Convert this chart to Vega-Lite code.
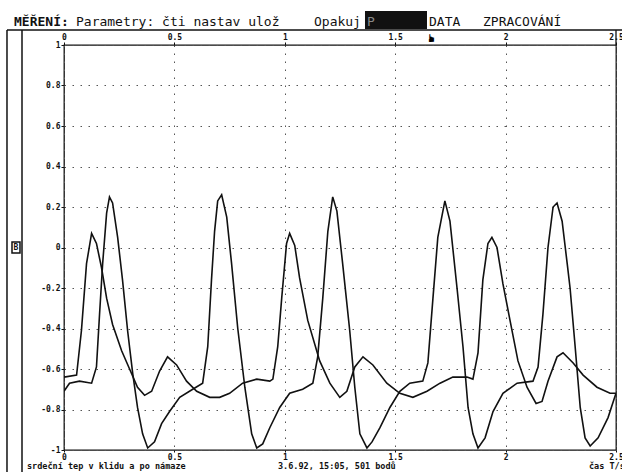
{
  "$schema": "https://vega.github.io/schema/vega-lite/v6.json",
  "width": 552,
  "height": 405,
  "autosize": {"type": "none"},
  "padding": {"left": 64, "top": 45, "right": 6, "bottom": 22},
  "background": "white",
  "config": {
    "font": "DejaVu Sans Mono",
    "view": {"stroke": "#111", "strokeWidth": 1.3},
    "axis": {
      "domainColor": "#111", "tickColor": "#111", "labelColor": "#111",
      "labelFont": "DejaVu Sans Mono", "labelFontWeight": "bold", "labelFontSize": 8
    }
  },
  "data": {"values": [
    {"s":"A","t":0,"v":-0.64},{"s":"A","t":0.057,"v":-0.63},{"s":"A","t":0.079,"v":-0.41},{"s":"A","t":0.102,"v":-0.08},{"s":"A","t":0.125,"v":0.07},{"s":"A","t":0.147,"v":0.02},{"s":"A","t":0.170,"v":-0.10},{"s":"A","t":0.193,"v":-0.25},{"s":"A","t":0.220,"v":-0.38},{"s":"A","t":0.261,"v":-0.51},{"s":"A","t":0.297,"v":-0.60},{"s":"A","t":0.333,"v":-0.69},{"s":"A","t":0.365,"v":-0.73},{"s":"A","t":0.397,"v":-0.71},{"s":"A","t":0.433,"v":-0.61},{"s":"A","t":0.469,"v":-0.54},{"s":"A","t":0.510,"v":-0.58},{"s":"A","t":0.555,"v":-0.66},{"s":"A","t":0.601,"v":-0.71},{"s":"A","t":0.660,"v":-0.74},{"s":"A","t":0.705,"v":-0.74},{"s":"A","t":0.750,"v":-0.72},{"s":"A","t":0.809,"v":-0.67},{"s":"A","t":0.873,"v":-0.65},{"s":"A","t":0.932,"v":-0.66},{"s":"A","t":0.946,"v":-0.65},{"s":"A","t":0.968,"v":-0.49},{"s":"A","t":0.986,"v":-0.25},{"s":"A","t":1.008,"v":0.02},{"s":"A","t":1.022,"v":0.07},{"s":"A","t":1.045,"v":0.01},{"s":"A","t":1.067,"v":-0.15},{"s":"A","t":1.104,"v":-0.36},{"s":"A","t":1.158,"v":-0.56},{"s":"A","t":1.204,"v":-0.67},{"s":"A","t":1.249,"v":-0.74},{"s":"A","t":1.281,"v":-0.71},{"s":"A","t":1.317,"v":-0.59},{"s":"A","t":1.354,"v":-0.54},{"s":"A","t":1.399,"v":-0.58},{"s":"A","t":1.462,"v":-0.67},{"s":"A","t":1.521,"v":-0.72},{"s":"A","t":1.580,"v":-0.74},{"s":"A","t":1.644,"v":-0.71},{"s":"A","t":1.703,"v":-0.67},{"s":"A","t":1.761,"v":-0.64},{"s":"A","t":1.825,"v":-0.64},{"s":"A","t":1.852,"v":-0.65},{"s":"A","t":1.875,"v":-0.52},{"s":"A","t":1.897,"v":-0.16},{"s":"A","t":1.920,"v":0.02},{"s":"A","t":1.938,"v":0.05},{"s":"A","t":1.961,"v":0.00},{"s":"A","t":1.988,"v":-0.18},{"s":"A","t":2.020,"v":-0.36},{"s":"A","t":2.056,"v":-0.56},{"s":"A","t":2.097,"v":-0.69},{"s":"A","t":2.138,"v":-0.77},{"s":"A","t":2.165,"v":-0.76},{"s":"A","t":2.192,"v":-0.66},{"s":"A","t":2.233,"v":-0.54},{"s":"A","t":2.260,"v":-0.52},{"s":"A","t":2.306,"v":-0.57},{"s":"A","t":2.351,"v":-0.63},{"s":"A","t":2.414,"v":-0.69},{"s":"A","t":2.473,"v":-0.72},{"s":"A","t":2.500,"v":-0.72},
    {"s":"B","t":0,"v":-0.71},{"s":"B","t":0.025,"v":-0.67},{"s":"B","t":0.070,"v":-0.66},{"s":"B","t":0.125,"v":-0.67},{"s":"B","t":0.147,"v":-0.59},{"s":"B","t":0.161,"v":-0.33},{"s":"B","t":0.175,"v":-0.08},{"s":"B","t":0.193,"v":0.17},{"s":"B","t":0.206,"v":0.25},{"s":"B","t":0.220,"v":0.22},{"s":"B","t":0.243,"v":0.05},{"s":"B","t":0.265,"v":-0.16},{"s":"B","t":0.288,"v":-0.41},{"s":"B","t":0.311,"v":-0.62},{"s":"B","t":0.333,"v":-0.79},{"s":"B","t":0.356,"v":-0.92},{"s":"B","t":0.379,"v":-0.99},{"s":"B","t":0.410,"v":-0.96},{"s":"B","t":0.442,"v":-0.87},{"s":"B","t":0.478,"v":-0.81},{"s":"B","t":0.524,"v":-0.74},{"s":"B","t":0.583,"v":-0.70},{"s":"B","t":0.628,"v":-0.67},{"s":"B","t":0.651,"v":-0.49},{"s":"B","t":0.668,"v":-0.16},{"s":"B","t":0.682,"v":0.08},{"s":"B","t":0.696,"v":0.23},{"s":"B","t":0.714,"v":0.26},{"s":"B","t":0.737,"v":0.15},{"s":"B","t":0.759,"v":-0.08},{"s":"B","t":0.787,"v":-0.40},{"s":"B","t":0.819,"v":-0.69},{"s":"B","t":0.850,"v":-0.92},{"s":"B","t":0.873,"v":-0.99},{"s":"B","t":0.900,"v":-0.97},{"s":"B","t":0.932,"v":-0.89},{"s":"B","t":0.977,"v":-0.79},{"s":"B","t":1.022,"v":-0.72},{"s":"B","t":1.081,"v":-0.70},{"s":"B","t":1.127,"v":-0.67},{"s":"B","t":1.149,"v":-0.54},{"s":"B","t":1.172,"v":-0.25},{"s":"B","t":1.195,"v":0.08},{"s":"B","t":1.217,"v":0.25},{"s":"B","t":1.236,"v":0.18},{"s":"B","t":1.262,"v":-0.08},{"s":"B","t":1.294,"v":-0.41},{"s":"B","t":1.317,"v":-0.69},{"s":"B","t":1.340,"v":-0.92},{"s":"B","t":1.372,"v":-0.99},{"s":"B","t":1.395,"v":-0.96},{"s":"B","t":1.431,"v":-0.89},{"s":"B","t":1.476,"v":-0.79},{"s":"B","t":1.521,"v":-0.71},{"s":"B","t":1.566,"v":-0.67},{"s":"B","t":1.625,"v":-0.66},{"s":"B","t":1.648,"v":-0.57},{"s":"B","t":1.671,"v":-0.25},{"s":"B","t":1.693,"v":0.05},{"s":"B","t":1.725,"v":0.23},{"s":"B","t":1.748,"v":0.13},{"s":"B","t":1.780,"v":-0.20},{"s":"B","t":1.807,"v":-0.49},{"s":"B","t":1.830,"v":-0.79},{"s":"B","t":1.852,"v":-0.92},{"s":"B","t":1.875,"v":-0.99},{"s":"B","t":1.907,"v":-0.94},{"s":"B","t":1.943,"v":-0.81},{"s":"B","t":1.988,"v":-0.72},{"s":"B","t":2.052,"v":-0.67},{"s":"B","t":2.124,"v":-0.66},{"s":"B","t":2.147,"v":-0.59},{"s":"B","t":2.169,"v":-0.33},{"s":"B","t":2.192,"v":0.00},{"s":"B","t":2.215,"v":0.20},{"s":"B","t":2.233,"v":0.22},{"s":"B","t":2.256,"v":0.13},{"s":"B","t":2.279,"v":-0.08},{"s":"B","t":2.292,"v":-0.20},{"s":"B","t":2.315,"v":-0.49},{"s":"B","t":2.338,"v":-0.79},{"s":"B","t":2.360,"v":-0.94},{"s":"B","t":2.383,"v":-0.98},{"s":"B","t":2.419,"v":-0.94},{"s":"B","t":2.464,"v":-0.84},{"s":"B","t":2.500,"v":-0.72}
  ]},
  "resolve": {"axis": {"x": "independent"}},
  "layer": [
    {
      "mark": {"type": "line", "color": "#111", "strokeWidth": 1.6, "clip": true},
      "encoding": {
        "x": {"field": "t", "type": "quantitative",
              "scale": {"domain": [0, 2.5], "nice": false, "zero": false},
              "axis": {"orient": "bottom", "title": null, "values": [0, 0.5, 1, 1.5, 2, 2.5],
                       "labelExpr": "'' + datum.value", "grid": true, "gridDash": [1.5, 6.5], "gridColor": "#555",
                       "tickSize": 2, "labelPadding": 1, "domain": false, "labelFlush": false, "labelOverlap": false, "labelBound": false}},
        "y": {"field": "v", "type": "quantitative",
              "scale": {"domain": [-1, 1], "nice": false, "zero": false},
              "axis": {"orient": "left", "title": null, "values": [-1, -0.8, -0.6, -0.4, -0.2, 0, 0.2, 0.4, 0.6, 0.8, 1],
                       "labelExpr": "'' + datum.value", "grid": true, "gridDash": [1.5, 6.5], "gridColor": "#555",
                       "tickSize": 3, "labelPadding": 1, "domain": false, "labelOverlap": false, "labelBound": false}},
        "detail": {"field": "s"}
      }
    },
    {
      "mark": {"type": "point", "opacity": 0},
      "encoding": {
        "x": {"field": "t", "type": "quantitative",
              "axis": {"orient": "top", "title": null, "values": [0, 0.5, 1, 1.5, 2, 2.5],
                       "labelExpr": "'' + datum.value", "grid": false,
                       "tickSize": 3, "labelPadding": 1, "domain": false, "labelFlush": false, "labelOverlap": false, "labelBound": false}},
        "y": {"field": "v", "type": "quantitative"}
      }
    },
    {
      "data": {"values": [{}]},
      "mark": {"type": "rule", "color": "#111", "strokeWidth": 1.5},
      "encoding": {"x": {"datum": -0.2582, "axis": null}, "x2": {"datum": 2.536}, "y": {"datum": 1.0741}}
    },
    {
      "data": {"values": [{}]},
      "mark": {"type": "rule", "color": "#111", "strokeWidth": 1.5},
      "encoding": {"x": {"datum": -0.2582, "axis": null}, "y": {"datum": 1.0741}, "y2": {"datum": -1.11}}
    },
    {
      "data": {"values": [{}]},
      "mark": {"type": "rule", "color": "#111", "strokeWidth": 1.5},
      "encoding": {"x": {"datum": -0.1902, "axis": null}, "y": {"datum": 1.0741}, "y2": {"datum": -1.11}}
    },
    {
      "data": {"values": [{}]},
      "mark": {"type": "rule", "color": "#111", "strokeWidth": 1.3},
      "encoding": {"x": {"datum": 2.5, "axis": null}, "y": {"datum": 1.0741}, "y2": {"datum": 1}}
    },
    {
      "data": {"values": [{}]},
      "mark": {"type": "rect", "fill": "white", "stroke": "#111", "strokeWidth": 1.5},
      "encoding": {"x": {"datum": -0.2355, "axis": null}, "x2": {"datum": -0.1993}, "y": {"datum": 0.0272}, "y2": {"datum": -0.0272}}
    },
    {
      "data": {"values": [{}]},
      "mark": {"type": "text", "text": "B", "font": "DejaVu Sans Mono", "fontWeight": "bold", "fontSize": 8, "align": "center", "baseline": "middle", "color": "#111"},
      "encoding": {"x": {"datum": -0.2174, "axis": null}, "y": {"datum": 0}}
    },
    {
      "data": {"values": [{}]},
      "mark": {"type": "rect", "fill": "#111"},
      "encoding": {"x": {"datum": 1.3632, "axis": null}, "x2": {"datum": 1.644}, "y": {"datum": 1.1679}, "y2": {"datum": 1.079}}
    },
    {
      "data": {"values": [{}]},
      "mark": {"type": "text", "text": "P", "font": "DejaVu Sans Mono", "fontSize": 13, "align": "left", "baseline": "alphabetic", "color": "#888"},
      "encoding": {"x": {"datum": 1.3723, "axis": null}, "y": {"datum": 1.0938}}
    },
    {
      "data": {"values": [{}]},
      "mark": {"type": "text", "text": "☛", "font": "DejaVu Sans", "fontSize": 11, "angle": -90, "align": "center", "baseline": "middle", "color": "#000"},
      "encoding": {"x": {"datum": 1.6667, "axis": null}, "y": {"datum": 1.0346}}
    },
    {
      "data": {"values": [{}]},
      "mark": {"type": "text", "text": "MĚŘENÍ:", "font": "DejaVu Sans Mono", "fontWeight": "bold", "fontSize": 13, "align": "left", "baseline": "alphabetic", "color": "#111"},
      "encoding": {"x": {"datum": -0.2264, "axis": null}, "y": {"datum": 1.0938}}
    },
    {
      "data": {"values": [{}]},
      "mark": {"type": "text", "text": "Parametry: čti nastav ulož", "font": "DejaVu Sans Mono", "fontSize": 13, "align": "left", "baseline": "alphabetic", "color": "#111"},
      "encoding": {"x": {"datum": 0.0543, "axis": null}, "y": {"datum": 1.0938}}
    },
    {
      "data": {"values": [{}]},
      "mark": {"type": "text", "text": "Opakuj", "font": "DejaVu Sans Mono", "fontSize": 13, "align": "left", "baseline": "alphabetic", "color": "#111"},
      "encoding": {"x": {"datum": 1.1322, "axis": null}, "y": {"datum": 1.0938}}
    },
    {
      "data": {"values": [{}]},
      "mark": {"type": "text", "text": "DATA", "font": "DejaVu Sans Mono", "fontSize": 13, "align": "left", "baseline": "alphabetic", "color": "#111"},
      "encoding": {"x": {"datum": 1.6531, "axis": null}, "y": {"datum": 1.0938}}
    },
    {
      "data": {"values": [{}]},
      "mark": {"type": "text", "text": "ZPRACOVÁNÍ", "font": "DejaVu Sans Mono", "fontSize": 13, "align": "left", "baseline": "alphabetic", "color": "#111"},
      "encoding": {"x": {"datum": 1.8976, "axis": null}, "y": {"datum": 1.0938}}
    },
    {
      "data": {"values": [{}]},
      "mark": {"type": "text", "text": "srdeční tep v klidu a po námaze", "font": "DejaVu Sans Mono", "fontWeight": "bold", "fontSize": 8.5, "align": "left", "baseline": "middle", "color": "#111"},
      "encoding": {"x": {"datum": -0.1676, "axis": null}, "y": {"datum": -1.079}}
    },
    {
      "data": {"values": [{}]},
      "mark": {"type": "text", "text": "3.6.92, 15:05, 501 bodů", "font": "DejaVu Sans Mono", "fontWeight": "bold", "fontSize": 8.5, "align": "left", "baseline": "middle", "color": "#111"},
      "encoding": {"x": {"datum": 0.9692, "axis": null}, "y": {"datum": -1.079}}
    },
    {
      "data": {"values": [{}]},
      "mark": {"type": "text", "text": "čas T/s", "font": "DejaVu Sans Mono", "fontWeight": "bold", "fontSize": 8.5, "align": "left", "baseline": "middle", "color": "#111"},
      "encoding": {"x": {"datum": 2.3777, "axis": null}, "y": {"datum": -1.079}}
    }
  ]
}
